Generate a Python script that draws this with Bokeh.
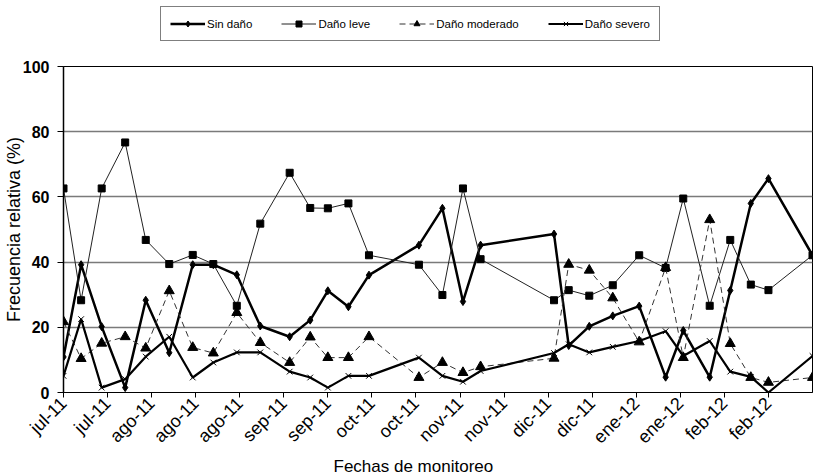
import math
from bokeh.plotting import figure
from bokeh.layouts import column
from bokeh.models import Range1d, FixedTicker, Legend, LegendItem, Title
from bokeh.embed import file_html
from bokeh.resources import INLINE

# Days since first monitoring date (2 Jul 2011)
dias = [0, 6, 13, 21, 28, 36, 44, 51, 59, 67, 77, 84, 90, 97, 104, 121, 129,
        136, 142, 167, 172, 179, 187, 196, 205, 211, 220, 227, 234, 240, 255]

sin_dano = [10.9, 39.2, 20.2, 1.5, 28.3, 12.2, 39.2, 39.2, 36.1, 20.4,
            17.1, 22.2, 31.2, 26.3, 36.0, 45.2, 56.5, 27.9, 45.2, 48.6,
            14.4, 20.3, 23.5, 26.5, 4.7, 19.0, 4.7, 31.3, 58.0, 65.6, 42.1]
dano_leve = [62.6, 28.3, 62.6, 76.7, 46.8, 39.4, 42.2, 39.4, 26.6, 51.8,
             67.4, 56.6, 56.5, 58.0, 42.1, 39.2, 29.9, 62.6, 40.9, 28.3,
             31.4, 29.7, 32.9, 42.1, 38.2, 59.5, 26.6, 46.8, 33.1, 31.4, 42.1]
dano_moderado = [21.7, 10.4, 15.1, 17.1, 13.6, 31.2, 13.8, 12.1, 24.5, 15.3,
                 9.2, 17.0, 10.7, 10.7, 17.1, 4.6, 9.2, 6.1, 7.9, 10.5,
                 39.3, 37.5, 29.0, 15.5, 38.3, 10.7, 53.0, 15.0, 4.6, 3.1, 4.6]
dano_severo = [5.1, 22.5, 1.5, 4.1, 11.0, 17.1, 4.6, 9.2, 12.3, 12.3,
               6.4, 4.6, 1.5, 5.1, 5.1, 10.7, 5.1, 3.3, 6.6, 12.1,
               14.8, 12.3, 14.0, 15.8, 18.8, 11.2, 15.8, 6.4, 4.8, 0.0, 11.2]

series_names = ["Sin daño", "Daño leve", "Daño moderado", "Daño severo"]
series_values = [sin_dano, dano_leve, dano_moderado, dano_severo]

tick_dias = [0, 15, 30, 45, 60, 75, 90, 105, 120, 135, 150, 165, 180, 195, 210, 225, 240]
tick_labels = ["jul-11", "jul-11", "ago-11", "ago-11", "ago-11", "sep-11", "sep-11",
               "oct-11", "oct-11", "nov-11", "nov-11", "dic-11", "dic-11",
               "ene-12", "ene-12", "feb-12", "feb-12"]

FONT = "Liberation Sans"

STYLES = [
    dict(line=dict(line_color="black", line_width=2.5),
         mark=dict(marker="diamond", size=8, fill_color="black", line_color="black")),
    dict(line=dict(line_color="#222222", line_width=1),
         mark=dict(marker="square", size=7, fill_color="black", line_color="black")),
    dict(line=dict(line_color="#333333", line_width=1, line_dash="6 4"),
         mark=dict(marker="triangle", size=10, fill_color="black", line_color="black")),
    dict(line=dict(line_color="black", line_width=2.2),
         mark=dict(marker="x", size=8, line_color="black", line_width=1)),
]

# ---------------- main chart ----------------
p = figure(width=814, height=414, output_backend="svg", toolbar_location=None,
           x_range=Range1d(0, 255), y_range=Range1d(0, 100),
           min_border_left=62, min_border_right=2, min_border_top=6,
           min_border_bottom=82)
p.background_fill_color = "white"
p.border_fill_color = "white"
p.outline_line_color = "black"
p.outline_line_width = 1

for ys, st in zip(series_values, STYLES):
    p.line(dias, ys, **st["line"])
    p.scatter(dias, ys, **st["mark"])

p.xaxis.ticker = FixedTicker(ticks=tick_dias)
p.xaxis.major_label_overrides = {t: l for t, l in zip(tick_dias, tick_labels)}
p.xaxis.major_label_orientation = math.pi / 4
p.xaxis.major_label_text_font = FONT
p.xaxis.major_label_text_font_size = "18px"
p.xaxis.major_label_text_color = "black"
p.xaxis.major_label_standoff = 3
p.xaxis.major_tick_out = 5
p.xaxis.major_tick_in = 0
p.xaxis.minor_tick_line_color = None
p.xaxis.axis_line_color = "black"
p.xaxis.axis_line_width = 1.2

p.yaxis.ticker = FixedTicker(ticks=[0, 20, 40, 60, 80, 100])
p.yaxis.major_label_text_font = FONT
p.yaxis.major_label_text_font_size = "16px"
p.yaxis.major_label_text_font_style = "bold"
p.yaxis.major_label_text_color = "black"
p.yaxis.major_label_standoff = 8
p.yaxis.major_tick_out = 6
p.yaxis.major_tick_in = 0
p.yaxis.minor_tick_line_color = None
p.yaxis.axis_line_color = "black"
p.yaxis.axis_line_width = 1.5
p.yaxis.axis_label = "Frecuencia relativa (%)"
p.yaxis.axis_label_text_font = FONT
p.yaxis.axis_label_text_font_size = "18px"
p.yaxis.axis_label_text_font_style = "normal"
p.yaxis.axis_label_text_color = "black"
p.yaxis.axis_label_standoff = -4

p.xgrid.grid_line_color = None
p.ygrid.grid_line_color = "#7a7a7a"
p.ygrid.grid_line_width = 1.5

p.add_layout(Title(text="Fechas de monitoreo", align="left", offset=270,
                   standoff=-6, text_font=FONT, text_font_size="17px",
                   text_font_style="normal", text_color="black"), "below")

# ---------------- legend strip (same series, view range kept empty) ----------------
lg = figure(width=814, height=60, output_backend="svg", toolbar_location=None,
            x_axis_type=None, y_axis_type=None,
            x_range=Range1d(-1000, -999), y_range=Range1d(-1000, -999),
            min_border_left=0, min_border_right=0, min_border_top=0,
            min_border_bottom=0)
lg.outline_line_color = None
lg.background_fill_color = "white"
lg.border_fill_color = "white"

items = []
for name, ys, st in zip(series_names, series_values, STYLES):
    rl = lg.line(dias, ys, **st["line"])
    rm = lg.scatter(dias, ys, **st["mark"])
    items.append(LegendItem(label=name, renderers=[rl, rm]))

legend = Legend(items=items, location=(97, 19), orientation="horizontal")
legend.border_line_color = "black"
legend.border_line_width = 1
legend.background_fill_color = "white"
legend.background_fill_alpha = 1
legend.padding = 9
legend.spacing = 29
legend.margin = 0
legend.glyph_width = 35
legend.glyph_height = 15
legend.label_standoff = 2
legend.label_text_font = FONT
legend.label_text_font_size = "11.5px"
legend.label_text_color = "black"
lg.add_layout(legend, "center")

layout = column(lg, p, spacing=0)
open("out.html", "w").write(file_html(layout, INLINE))
